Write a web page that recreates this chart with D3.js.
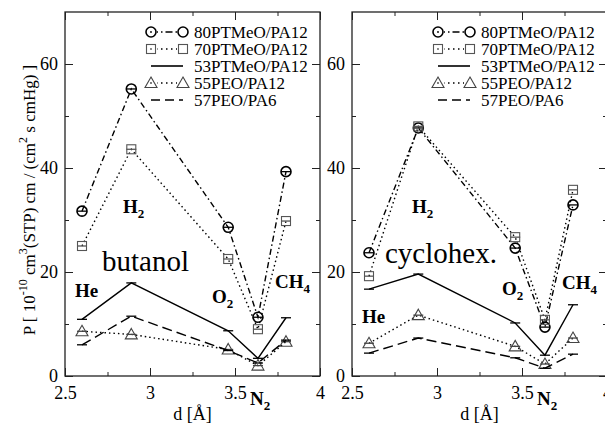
<!DOCTYPE html>
<html><head><meta charset="utf-8">
<script src="https://cdn.jsdelivr.net/npm/d3@7"></script>
<style>body{margin:0;background:#fff}svg{display:block}</style>
</head><body>
<script>
// ---- data ----
const gases = ["He","H2","O2","N2","CH4"];
const diam  = [2.6, 2.89, 3.46, 3.635, 3.8];
const seriesNames = ["80PTMeO/PA12","70PTMeO/PA12","53PTMeO/PA12","55PEO/PA12","57PEO/PA6"];
// butanol panel
const but80 = [31.7, 55.2, 28.6, 11.3, 39.3];
const but70 = [25.0, 43.6, 22.5, 9.0, 29.8];
const but53 = [10.9, 17.9, 8.7, 3.4, 11.2];
const but55 = [8.6, 8.0, 5.1, 2.0, 6.6];
const but57 = [6.0, 11.5, 4.9, 2.5, 6.9];
// cyclohexane panel
const cyc80 = [23.7, 47.7, 24.6, 9.4, 32.9];
const cyc70 = [19.2, 48.0, 26.7, 10.8, 35.8];
const cyc53 = [16.7, 19.6, 10.2, 4.0, 13.7];
const cyc55 = [6.3, 11.7, 5.7, 2.3, 7.3];
const cyc57 = [4.4, 7.3, 3.5, 1.5, 4.2];
const xTicks = [2.5, 3, 3.5, 4];
const xMinor = [2.75, 3.25, 3.75];
const yTicks = [0, 20, 40, 60];
const yMinor = [10, 30, 50];

const FONT = "'Liberation Serif', 'Times New Roman', Times, serif";

const styles = [
  {dash:"6,3,1.5,3", marker:"circle", color:"#000", mcolor:"#000"},
  {dash:"1.5,3", marker:"square", color:"#000", mcolor:"#555"},
  {dash:null, marker:null, color:"#000", mcolor:"#000"},
  {dash:"1.5,3", marker:"triangle", color:"#000", mcolor:"#444"},
  {dash:"10,5", marker:null, color:"#000", mcolor:"#000"}
];

const W=605,H=427;
const svg=d3.select("body").append("svg").attr("width",W).attr("height",H);

function drawMarker(g,type,x,y,col,dot){
  if(type==="circle"){
    g.append("circle").attr("cx",x).attr("cy",y).attr("r",5).attr("fill","none").attr("stroke",col).attr("stroke-width",1.6);
  } else if(type==="square"){
    g.append("rect").attr("x",x-4.5).attr("y",y-4.5).attr("width",9).attr("height",9).attr("fill","none").attr("stroke",col).attr("stroke-width",1.1);
  } else if(type==="triangle"){
    g.append("path").attr("d",`M${x},${y-6}L${x+6},${y+4.5}L${x-6},${y+4.5}Z`).attr("fill","none").attr("stroke",col).attr("stroke-width",1.1);
  }
  if(dot && type) g.append("circle").attr("cx",x).attr("cy",y).attr("r",0.9).attr("fill",col);
}

function txt(g){ return g.append("text").style("font-family",FONT).attr("fill","#000"); }

function gasLabel(g,x,y,main,sub){
  const t=txt(g).attr("x",x).attr("y",y).style("font-weight","bold").attr("font-size",19);
  t.append("tspan").text(main);
  if(sub) t.append("tspan").attr("font-size",13).attr("dy",5).text(sub);
}

function panel(x0,x1,data,title,titlePos,labels,yLabel){
  const x=d3.scaleLinear().domain([2.5,4]).range([x0,x1]);
  const y=d3.scaleLinear().domain([0,70]).range([376,12]);
  const g=svg.append("g");
  g.append("rect").attr("x",x0).attr("y",12).attr("width",x1-x0).attr("height",364).attr("fill","none").attr("stroke","#222").attr("stroke-width",1.3);
  const axB=d3.axisBottom(x).tickValues(xTicks).tickSize(-8).tickPadding(10).tickFormat(d=>d3.format("")(d));
  const gB=g.append("g").attr("transform","translate(0,376)").call(axB);
  gB.select(".domain").remove();
  gB.selectAll("text").attr("font-size",18).attr("fill","#000").style("font-family",FONT);
  const axBm=d3.axisBottom(x).tickValues(xMinor).tickSize(-4).tickFormat("");
  g.append("g").attr("transform","translate(0,376)").call(axBm).select(".domain").remove();
  const axT=d3.axisTop(x).tickValues(xTicks).tickSize(-8).tickFormat("");
  g.append("g").attr("transform","translate(0,12)").call(axT).select(".domain").remove();
  const axTm=d3.axisTop(x).tickValues(xMinor).tickSize(-4).tickFormat("");
  g.append("g").attr("transform","translate(0,12)").call(axTm).select(".domain").remove();
  const axL=d3.axisLeft(y).tickValues(yTicks).tickSize(-8).tickPadding(7);
  const gL=g.append("g").attr("transform",`translate(${x0},0)`).call(axL);
  gL.select(".domain").remove();
  gL.selectAll("text").attr("font-size",18).attr("fill","#000").style("font-family",FONT);
  const axLm=d3.axisLeft(y).tickValues(yMinor).tickSize(-4).tickFormat("");
  g.append("g").attr("transform",`translate(${x0},0)`).call(axLm).select(".domain").remove();
  const axR=d3.axisRight(y).tickValues(yTicks).tickSize(-8).tickFormat("");
  g.append("g").attr("transform",`translate(${x1},0)`).call(axR).select(".domain").remove();
  const axRm=d3.axisRight(y).tickValues(yMinor).tickSize(-4).tickFormat("");
  g.append("g").attr("transform",`translate(${x1},0)`).call(axRm).select(".domain").remove();
  g.selectAll(".tick line").attr("stroke","#222");

  txt(g).attr("x",(x0+x1)/2).attr("y",420).attr("text-anchor","middle").attr("font-size",18).text("d [Å]");

  if(yLabel){
    const t=txt(g).attr("transform",`translate(35,200) rotate(-90)`).attr("text-anchor","middle").attr("font-size",17);
    t.append("tspan").text("P [ 10");
    t.append("tspan").attr("font-size",12).attr("dy",-8).text("-10");
    t.append("tspan").attr("dy",8).text(" cm");
    t.append("tspan").attr("font-size",12).attr("dy",-8).text("3");
    t.append("tspan").attr("dy",8).text("(STP) cm / (cm");
    t.append("tspan").attr("font-size",12).attr("dy",-8).text("2");
    t.append("tspan").attr("dy",8).text(" s cmHg) ]");
  }

  const line=d3.line().x((d,i)=>x(diam[i])).y(d=>y(d));
  data.forEach((vals,si)=>{
    const st=styles[si];
    g.append("path").attr("d",line(vals)).attr("fill","none").attr("stroke",st.color).attr("stroke-width",1.4)
      .attr("stroke-dasharray",st.dash);
    vals.forEach((v,i)=>{
      g.append("line").attr("x1",x(diam[i])-5).attr("x2",x(diam[i])+5).attr("y1",y(v)).attr("y2",y(v))
        .attr("stroke",st.mcolor).attr("stroke-width",1.3);
      if(st.marker) drawMarker(g,st.marker,x(diam[i]),y(v),st.mcolor,false);
    });
  });

  txt(g).attr("x",titlePos[0]).attr("y",titlePos[1]).attr("font-size",29).text(title);
  labels.forEach(l=>gasLabel(g,l[0],l[1],l[2],l[3]));

  const lx1=x1-169, lx2=x1-137, tx=x1-126;
  seriesNames.forEach((n,i)=>{
    const st=styles[i];
    const yy=32+i*17;
    g.append("line").attr("x1",lx1).attr("x2",lx2).attr("y1",yy).attr("y2",yy).attr("stroke","#000").attr("stroke-width",1.6)
      .attr("stroke-dasharray",st.dash? (i===0?"7,3,1.5,3":(i===4?"9,5":"1.5,3.5")):null);
    if(st.marker){
      g.append("rect").attr("x",lx1-6).attr("y",yy-7).attr("width",12).attr("height",14).attr("fill","#fff");
      g.append("rect").attr("x",lx2-6).attr("y",yy-7).attr("width",12).attr("height",14).attr("fill","#fff");
      drawMarker(g,st.marker,lx1,yy,st.mcolor,true);
      drawMarker(g,st.marker,lx2,yy,st.mcolor,false);
    }
    txt(g).attr("x",tx).attr("y",yy+6).attr("font-size",17).text(n);
  });
}

panel(65,320,[but80,but70,but53,but55,but57],"butanol",[102,271],[
  [123,213,"H","2"],[75,297,"He",""],[212,303,"O","2"],[275,288,"CH","4"],[250,405,"N","2"]
],true);
panel(352,607,[cyc80,cyc70,cyc53,cyc55,cyc57],"cyclohex.",[385,263],[
  [412,213,"H","2"],[362,323,"He",""],[502,295,"O","2"],[562,289,"CH","4"],[537,405,"N","2"]
],false);
</script>
</body></html>
